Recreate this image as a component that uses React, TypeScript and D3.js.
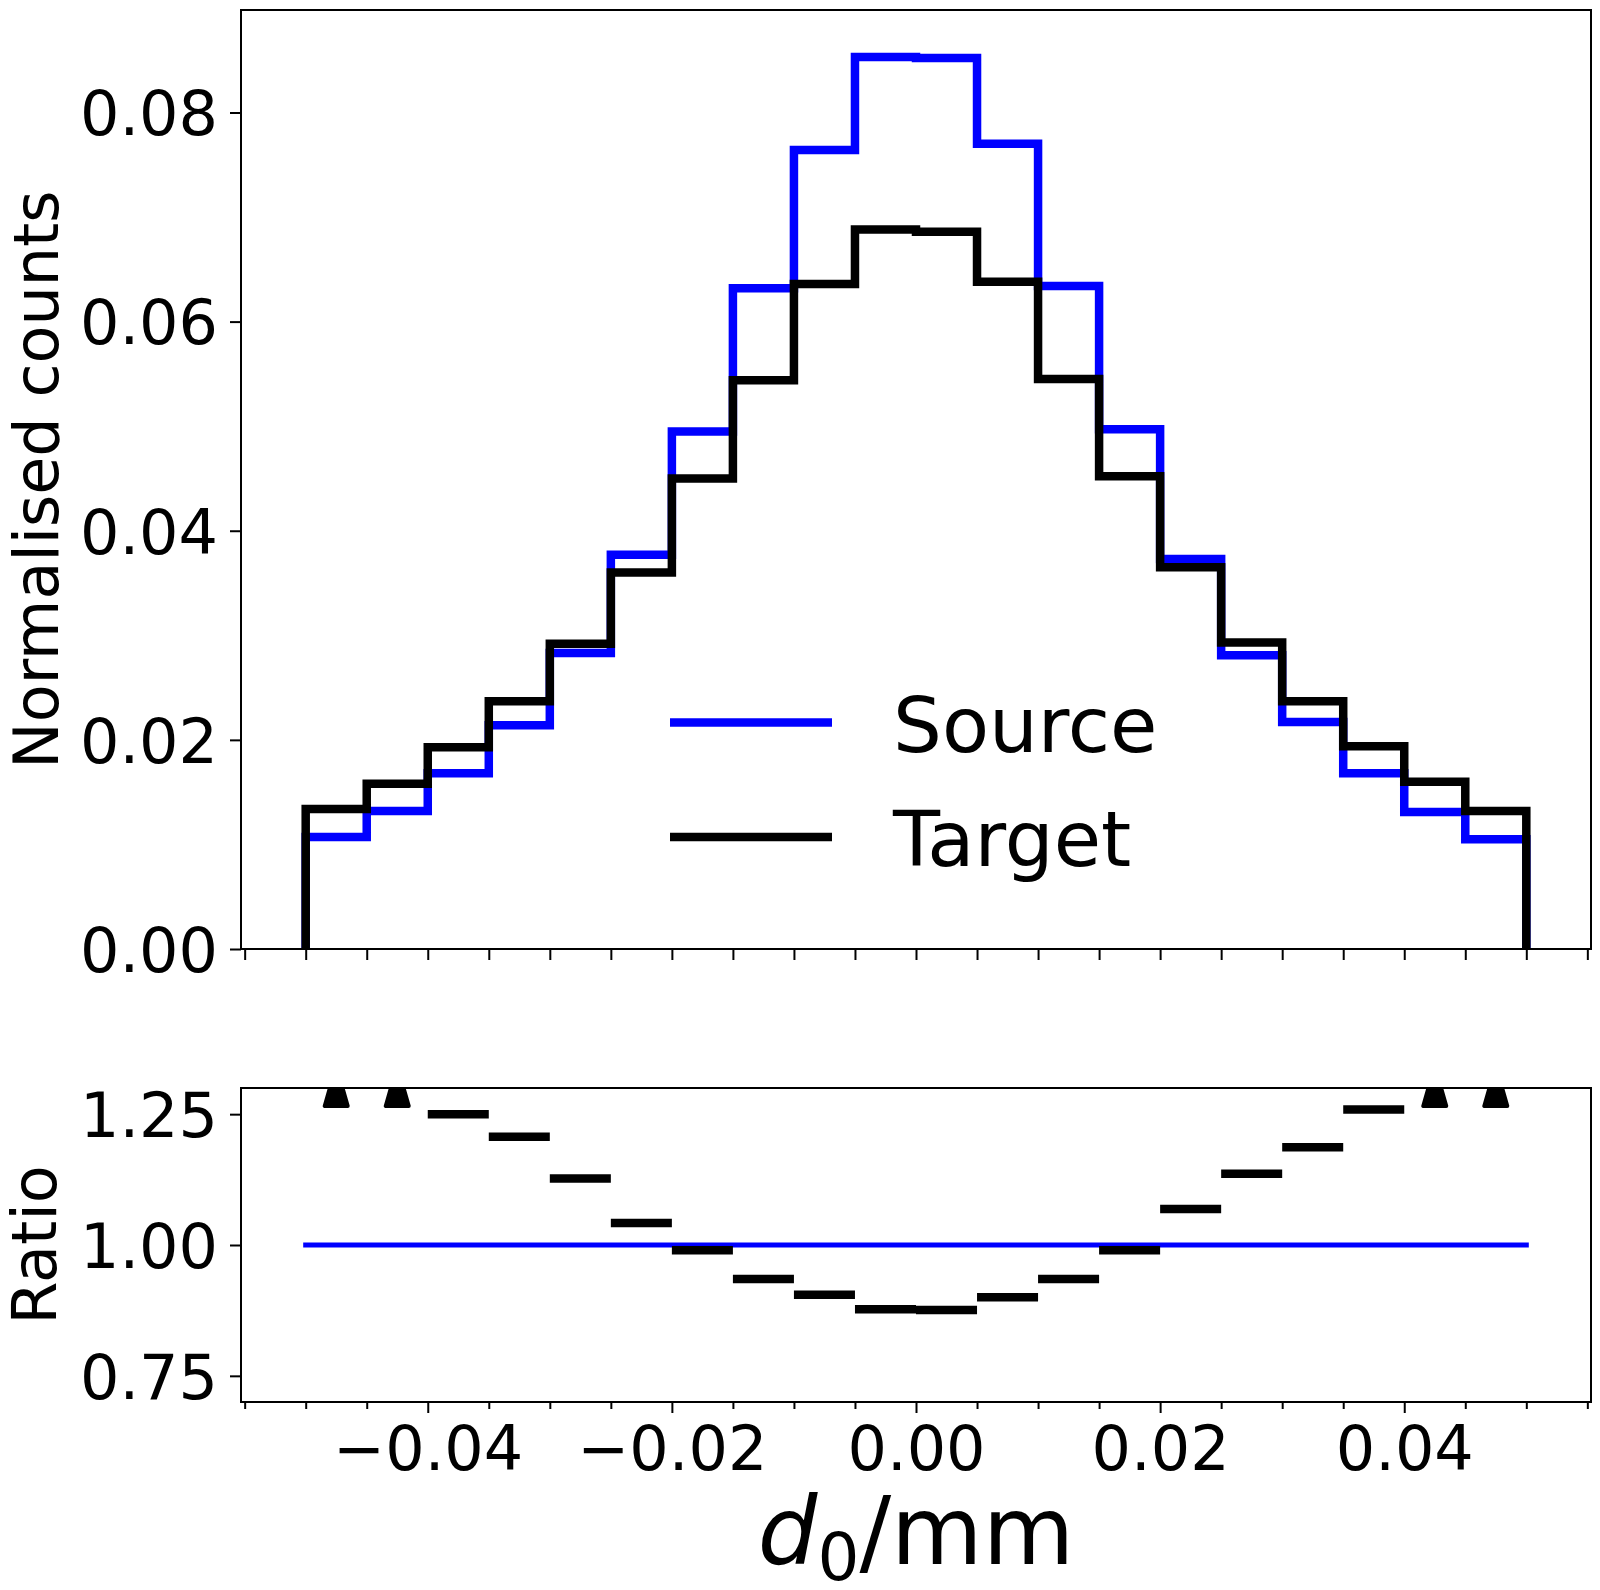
import React, { useRef, useEffect } from "react";
import * as d3 from "d3";

// histogram bin edges (mm)
const binEdges = [
  -0.05, -0.045, -0.04, -0.035, -0.03, -0.025, -0.02, -0.015, -0.01, -0.005, 0,
  0.005, 0.01, 0.015, 0.02, 0.025, 0.03, 0.035, 0.04, 0.045, 0.05,
];

// normalised counts per bin
const sourceCounts = [
  0.0107, 0.0132, 0.0168, 0.0214, 0.0283, 0.0377, 0.0495, 0.0632, 0.0764, 0.0853,
  0.0852, 0.077, 0.0634, 0.0497, 0.0373, 0.0281, 0.0217, 0.0168, 0.0131, 0.0105,
];
const targetCounts = [
  0.0134, 0.0158, 0.0193, 0.0237, 0.0292, 0.036, 0.045, 0.0544, 0.0636, 0.0688,
  0.0686, 0.0638, 0.0545, 0.0452, 0.0365, 0.0293, 0.0237, 0.0194, 0.016, 0.0132,
];

// ratio per bin; null = above the plotted range (shown as an arrow marker)
const ratioValues: (number | null)[] = [
  null, null, 1.25, 1.207, 1.127, 1.042, 0.99, 0.935, 0.905, 0.877,
  0.876, 0.9, 0.935, 0.99, 1.069, 1.136, 1.187, 1.259, null, null,
];

const countTicks = [0, 0.02, 0.04, 0.06, 0.08];
const ratioTicks = [0.75, 1.0, 1.25];
const xMajorTicks = [-0.04, -0.02, 0, 0.02, 0.04];

const seriesNames = ["Source", "Target"];
const seriesColors = ["#0000ff", "#000000"];

const FONT = "DejaVu Sans";

const App: React.FC = () => {
  const svgRef = useRef<SVGSVGElement | null>(null);

  useEffect(() => {
    const svg = d3.select(svgRef.current);
    svg.selectAll("*").remove();

    const width = 1600;
    const height = 1590;
    const left = 241;
    const right = 1591;
    const top1 = 10;
    const bottom1 = 949;
    const top2 = 1088;
    const bottom2 = 1402;

    svg.attr("width", width).attr("height", height);

    const x = d3.scaleLinear().domain([-0.0553, 0.0553]).range([left, right]);
    const yCounts = d3.scaleLinear().domain([0, 0.0898]).range([bottom1, top1]);
    const yRatio = d3.scaleLinear().domain([0.7, 1.3]).range([bottom2, top2]);

    const minorTicks = d3.range(-0.055, 0.0551, 0.005);

    svg
      .append("rect")
      .attr("width", width)
      .attr("height", height)
      .attr("fill", "white");

    // clip paths
    const defs = svg.append("defs");
    defs
      .append("clipPath")
      .attr("id", "clip-top")
      .append("rect")
      .attr("x", left)
      .attr("y", top1)
      .attr("width", right - left)
      .attr("height", bottom1 - top1);
    defs
      .append("clipPath")
      .attr("id", "clip-bottom")
      .append("rect")
      .attr("x", left)
      .attr("y", top2)
      .attr("width", right - left)
      .attr("height", bottom2 - top2);

    // ---------- top panel: step histograms ----------
    const stepPoints = (counts: number[]) => {
      const pts: [number, number][] = [[binEdges[0], 0]];
      counts.forEach((c, i) => {
        pts.push([binEdges[i], c]);
        pts.push([binEdges[i + 1], c]);
      });
      pts.push([binEdges[binEdges.length - 1], 0]);
      return pts;
    };

    const stepLine = d3
      .line<[number, number]>()
      .x((d) => x(d[0]))
      .y((d) => yCounts(d[1]));

    const gTop = svg.append("g").attr("clip-path", "url(#clip-top)");
    [sourceCounts, targetCounts].forEach((counts, i) => {
      gTop
        .append("path")
        .datum(stepPoints(counts))
        .attr("fill", "none")
        .attr("stroke", seriesColors[i])
        .attr("stroke-width", 8.5)
        .attr("stroke-linejoin", "miter")
        .attr("d", stepLine);
    });

    // legend
    const legend = svg.append("g");
    seriesNames.forEach((name, i) => {
      const ly = 722.5 + i * 114.5;
      legend
        .append("line")
        .attr("x1", 670)
        .attr("x2", 832)
        .attr("y1", ly)
        .attr("y2", ly)
        .attr("stroke", seriesColors[i])
        .attr("stroke-width", 8.5);
      legend
        .append("text")
        .attr("x", 893)
        .attr("y", ly + 29)
        .attr("font-family", FONT)
        .attr("font-size", 77)
        .attr("fill", "black")
        .text(name);
    });

    // top y axis
    const yAxisTop = svg
      .append("g")
      .attr("transform", `translate(${left},0)`)
      .call(d3.axisLeft(yCounts).tickValues(countTicks).tickSize(11).tickPadding(12).tickFormat(d3.format(".2f")));
    yAxisTop.select(".domain").remove();

    // top x axis (ticks only)
    const xAxisTop = svg
      .append("g")
      .attr("transform", `translate(0,${bottom1})`)
      .call(d3.axisBottom(x).tickValues(minorTicks).tickSize(11).tickFormat(() => ""));
    xAxisTop.select(".domain").remove();

    // ---------- bottom panel: ratio ----------
    const gBottom = svg.append("g").attr("clip-path", "url(#clip-bottom)");

    gBottom
      .append("line")
      .attr("x1", x(binEdges[0]))
      .attr("x2", x(binEdges[binEdges.length - 1]))
      .attr("y1", yRatio(1))
      .attr("y2", yRatio(1))
      .attr("stroke", "#0000ff")
      .attr("stroke-width", 5)
      .attr("stroke-linecap", "square");

    ratioValues.forEach((r, i) => {
      if (r === null) return;
      gBottom
        .append("line")
        .attr("x1", x(binEdges[i]))
        .attr("x2", x(binEdges[i + 1]))
        .attr("y1", yRatio(r))
        .attr("y2", yRatio(r))
        .attr("stroke", "black")
        .attr("stroke-width", 8.5);
    });

    // off-scale markers pinned to the top of the ratio axis
    const tri = "M0,-22 L-11.5,18 L11.5,18 Z";
    ratioValues.forEach((r, i) => {
      if (r !== null) return;
      const cx = x((binEdges[i] + binEdges[i + 1]) / 2);
      gBottom
        .append("path")
        .attr("d", tri)
        .attr("transform", `translate(${cx},${yRatio(1.3)})`)
        .attr("fill", "black")
        .attr("stroke", "black")
        .attr("stroke-width", 4)
        .attr("stroke-linejoin", "round");
    });

    const yAxisBottom = svg
      .append("g")
      .attr("transform", `translate(${left},0)`)
      .call(d3.axisLeft(yRatio).tickValues(ratioTicks).tickSize(11).tickPadding(12).tickFormat(d3.format(".2f")));
    yAxisBottom.select(".domain").remove();

    const xMinorBottom = svg
      .append("g")
      .attr("transform", `translate(0,${bottom2})`)
      .call(
        d3
          .axisBottom(x)
          .tickValues(minorTicks.filter((t) => !xMajorTicks.some((m) => Math.abs(m - t) < 1e-9)))
          .tickSize(7)
          .tickFormat(() => "")
      );
    xMinorBottom.select(".domain").remove();

    const xMajorBottom = svg
      .append("g")
      .attr("transform", `translate(0,${bottom2})`)
      .call(d3.axisBottom(x).tickValues(xMajorTicks).tickSize(11).tickFormat(d3.format(".2f")));
    xMajorBottom.select(".domain").remove();
    xMajorBottom.selectAll("text").attr("y", 68).attr("dy", "0");

    // common tick styling
    svg
      .selectAll(".tick line")
      .attr("stroke", "black")
      .attr("stroke-width", 2);
    svg
      .selectAll(".tick text")
      .attr("font-family", FONT)
      .attr("font-size", 62)
      .attr("fill", "black");
    yAxisTop.selectAll("text").attr("dy", "0.36em");
    yAxisBottom.selectAll("text").attr("dy", "0.36em");

    // frames
    [
      [top1, bottom1],
      [top2, bottom2],
    ].forEach(([t, b]) => {
      svg
        .append("rect")
        .attr("x", left)
        .attr("y", t)
        .attr("width", right - left)
        .attr("height", b - t)
        .attr("fill", "none")
        .attr("stroke", "black")
        .attr("stroke-width", 2);
    });

    // axis labels
    svg
      .append("text")
      .attr("transform", `translate(58,${(top1 + bottom1) / 2}) rotate(-90)`)
      .attr("text-anchor", "middle")
      .attr("font-family", FONT)
      .attr("font-size", 62)
      .text("Normalised counts");

    svg
      .append("text")
      .attr("transform", `translate(56,${(top2 + bottom2) / 2}) rotate(-90)`)
      .attr("text-anchor", "middle")
      .attr("font-family", FONT)
      .attr("font-size", 62)
      .text("Ratio");

    const xLabel = svg
      .append("text")
      .attr("x", (left + right) / 2)
      .attr("y", 1564)
      .attr("text-anchor", "middle")
      .attr("font-family", FONT)
      .attr("font-size", 94);
    xLabel.append("tspan").attr("font-style", "italic").text("d");
    xLabel.append("tspan").attr("font-size", 66).attr("dy", 16).text("0");
    xLabel.append("tspan").attr("dy", -16).text("/mm");
  }, []);

  return (
    <div style={{ position: "absolute", left: 0, top: 0 }}>
      <svg ref={svgRef} style={{ display: "block" }}></svg>
    </div>
  );
};

export default App;
